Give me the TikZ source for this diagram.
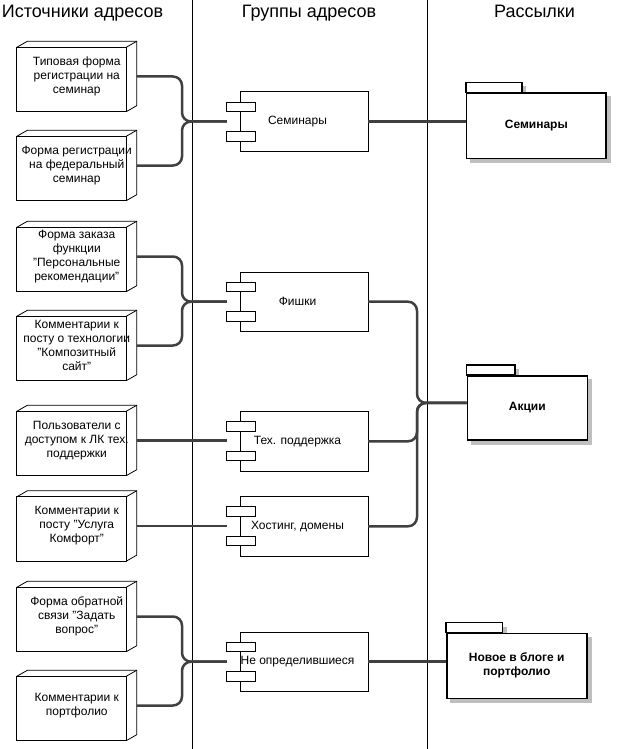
\documentclass[tikz,border=0pt]{standalone}
\usepackage{fontspec}
\setmainfont{Liberation Sans}
\usetikzlibrary{calc,backgrounds}

\tikzset{
  src/.style={minimum width=119.5pt, minimum height=70pt, inner sep=0pt, align=center,
    font=\fontsize{12}{14}\selectfont,
    append after command={\pgfextra{
      \draw[line width=0.8pt] ([yshift=-6pt]\tikzlastnode.north west) rectangle ([xshift=-10.5pt]\tikzlastnode.south east);
      \draw[line width=0.8pt,line join=round] ([yshift=-6pt]\tikzlastnode.north west) -- ([xshift=10.5pt]\tikzlastnode.north west)
        -- (\tikzlastnode.north east) -- ([yshift=6pt]\tikzlastnode.south east) -- ([xshift=-10.5pt]\tikzlastnode.south east);
      \draw[line width=0.8pt] ([shift={(-10.5pt,-6pt)}]\tikzlastnode.north east) -- (\tikzlastnode.north east);
    }}},
  grp/.style={minimum width=141pt, minimum height=59pt, inner sep=0pt,
    font=\fontsize{12}{14}\selectfont,
    append after command={\pgfextra{
      \draw[line width=0.8pt] ([xshift=14pt]\tikzlastnode.north west) rectangle (\tikzlastnode.south east);
      \draw[line width=0.8pt,fill=white] ([yshift=10pt]\tikzlastnode.west) rectangle ([shift={(28.5pt,19.5pt)}]\tikzlastnode.west);
      \draw[line width=0.8pt,fill=white] ([yshift=-10pt]\tikzlastnode.west) rectangle ([shift={(28.5pt,-19.5pt)}]\tikzlastnode.west);
    }}},
  pkg/.style={draw, line width=1.6pt, fill=white, inner sep=0pt, align=center,
    font=\fontsize{12}{14}\selectfont\bfseries},
  link/.style={line width=2.5pt, draw=black!75, rounded corners=9pt},
  lane/.style={line width=0.8pt},
  head/.style={font=\fontsize{18}{21}\selectfont, anchor=base}
}

\begin{document}
\begin{tikzpicture}[x=1pt,y=-1pt]
\useasboundingbox (0,0) rectangle (616,749);

% swimlanes
\draw[lane] (192.5,0) -- (192.5,749);
\draw[lane] (427.5,0) -- (427.5,749);
\node[head] (hSrc) at (82.5,17.5) {Источники адресов};
\node[head] (hGrp) at (309,17.5) {Группы адресов};
\node[head] (hMail) at (534.5,17.5) {Рассылки};

% sources
\node[src] (src1) at (76.75,76.5) {Типовая форма\\регистрации на\\семинар};
\node[src] (src2) at (76.75,165.5) {Форма регистрации\\на федеральный\\семинар};
\node[src] (src3) at (76.75,256.5) {Форма заказа\\функции\\"Персональные\\рекомендации"};
\node[src] (src4) at (76.75,345.5) {Комментарии к\\посту о технологии\\"Композитный\\сайт"};
\node[src] (src5) at (76.75,440.5) {Пользователи с\\доступом к ЛК тех.\\поддержки};
\node[src] (src6) at (76.75,526) {Комментарии к\\посту "Услуга\\Комфорт"};
\node[src] (src7) at (76.75,616.5) {Форма обратной\\связи "Задать\\вопрос"};
\node[src] (src8) at (76.75,705.5) {Комментарии к\\портфолио};

% groups
\node[grp] (grpSem) at (297.5,121.5) {Семинары};
\node[grp] (grpFis) at (297.5,301.7) {Фишки};
\node[grp] (grpTex) at (297.5,441.3) {Тех. поддержка};
\node[grp] (grpHost) at (297.5,526.3) {Хостинг, домены};
\node[grp] (grpNeo) at (297.5,661.7) {Не определившиеся};

% mailings
\node[pkg,minimum width=139.3pt,minimum height=65pt] (pkSem) at (536.3,125.8) {Семинары};
\node[pkg,minimum width=120pt,minimum height=64.3pt] (pkAct) at (527.3,407.9) {Акции};
\node[pkg,minimum width=140pt,minimum height=65pt] (pkNew) at (516.7,665.8) {Новое в блоге и\\портфолио};

\begin{scope}[on background layer]
\foreach \p in {pkSem,pkAct,pkNew}{
  \fill[gray!50] ([shift={(4pt,-4pt)}]\p.south west) rectangle ([shift={(4pt,-4pt)}]\p.north east);
  \fill[gray!50] ([shift={(4pt,-4pt)}]\p.north west) rectangle ($(\p.north west)!0.4!(\p.north east)+(4pt,6pt)$);
}
\end{scope}
\foreach \p in {pkSem,pkAct,pkNew}
  \draw[line width=1.6pt,fill=white] (\p.north west) rectangle ($(\p.north west)!0.4!(\p.north east)+(0,10pt)$);

% joints
\coordinate (jSem) at (182,121.5);
\coordinate (jFis) at (182,301.7);
\coordinate (jNeo) at (182,661.7);
\coordinate (jAct) at (417,402.9);

\draw[link] (src1.east) -| (jSem) -- (grpSem.west);
\draw[link] (src2.east) -| (jSem) -- (grpSem.west);
\draw[link] (src3.east) -| (jFis) -- (grpFis.west);
\draw[link] (src4.east) -| (jFis) -- (grpFis.west);
\draw[link] (src5.east) -- (src5.east -| grpTex.west);
\draw[link] (src6.east) -- (src6.east -| grpHost.west);
\draw[link] (src7.east) -| (jNeo) -- (grpNeo.west);
\draw[link] (src8.east) -| (jNeo) -- (grpNeo.west);

\draw[link] (grpSem.east) -- (grpSem.east -| pkSem.west);
\draw[link] (grpFis.east) -| (jAct) -- (jAct -| pkAct.west);
\draw[link] (grpTex.east) -| (jAct) -- (jAct -| pkAct.west);
\draw[link] (grpHost.east) -| (jAct) -- (jAct -| pkAct.west);
\draw[link] (grpNeo.east) -- (grpNeo.east -| pkNew.west);
\end{tikzpicture}
\end{document}
